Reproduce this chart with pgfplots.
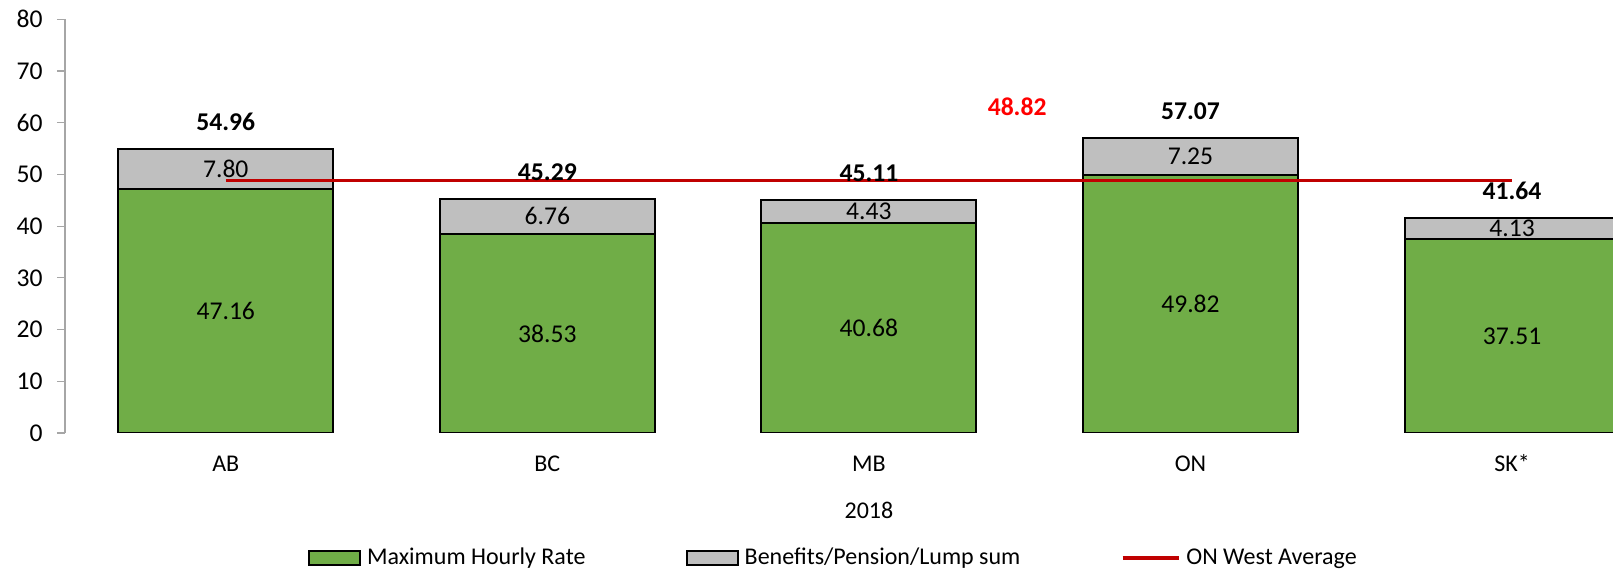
\documentclass[border=0pt]{standalone}
\usepackage{fontspec}
\setmainfont{Carlito}
\usepackage{pgfplots}
\pgfplotsset{compat=1.18}
\usepackage{pgfplotstable}
\definecolor{barGreen}{HTML}{70AD47}
\definecolor{barGray}{HTML}{BFBFBF}
\definecolor{lineRed}{HTML}{C00000}
\definecolor{axisGray}{HTML}{A6A6A6}
\pgfplotstableread{
x rate ben total avg
0 47.16 7.80 54.96 48.82
1 38.53 6.76 45.29 48.82
2 40.68 4.43 45.11 48.82
3 49.82 7.25 57.07 48.82
4 37.51 4.13 41.64 48.82
}\datatable
\newcommand{\lbl}{\fontsize{12.8}{15}\selectfont}
\newcommand{\sml}{\fontsize{12}{14}\selectfont}
\begin{document}
\begin{tikzpicture}
\begin{axis}[
  at={(0,0)}, anchor=south west,
  width=774pt, height=206.85pt, scale only axis,
  xmin=-0.5, xmax=4.314, ymin=0, ymax=80,
  ybar stacked, bar width=107.5pt,
  axis lines*=left,
  axis line style={-},
  x axis line style={draw=none},
  y axis line style={axisGray, line width=0.6pt},
  xtick={0,1,2,3,4},
  xticklabels={AB,BC,MB,ON,SK*},
  xtick style={draw=none},
  xticklabel style={anchor=base, yshift=-19.5pt, font=\sml},
  ytick={0,10,...,80},
  ytick align=outside, ytick pos=left,
  major tick length=4pt,
  ytick style={axisGray, line width=0.6pt},
  yticklabel style={anchor=east, inner xsep=0pt, xshift=-7pt, font=\lbl},
  /pgf/number format/assume math mode=true,
  clip=true,
]
\addplot[fill=barGreen, draw=black, line width=1pt,
  nodes near coords, point meta=explicit,
  nodes near coords={\pgfmathprintnumber[fixed,fixed zerofill,precision=2]{\pgfplotspointmeta}},
  every node near coord/.append style={anchor=center, font=\lbl, text=black}]
  table[x=x, y=rate, meta=rate]{\datatable};
\addplot[fill=barGray, draw=black, line width=1pt,
  nodes near coords, point meta=explicit,
  nodes near coords={\pgfmathprintnumber[fixed,fixed zerofill,precision=2]{\pgfplotspointmeta}},
  every node near coord/.append style={anchor=center, font=\lbl, text=black}]
  table[x=x, y=ben, meta=ben]{\datatable};
\end{axis}
\begin{axis}[
  at={(0,0)}, anchor=south west,
  width=774pt, height=206.85pt, scale only axis,
  xmin=-0.5, xmax=4.314, ymin=0, ymax=80,
  hide axis, clip=false,
  /pgf/number format/assume math mode=true,
  legend columns=3,
  legend cell align=left,
  legend style={draw=none, fill=none, at={(0.157,-0.302)}, anchor=west,
    inner sep=0pt, font=\sml,
    nodes={inner xsep=3pt, inner ysep=1pt},
    /tikz/every even column/.append style={column sep=47.3pt}},
]
\addlegendimage{legend image code/.code={\draw[fill=barGreen, draw=black, line width=0.8pt] (0pt,-3.5pt) rectangle (25.5pt,3.5pt);}}
\addlegendentry{Maximum Hourly Rate}
\addlegendimage{legend image code/.code={\draw[fill=barGray, draw=black, line width=0.8pt] (0pt,-3.5pt) rectangle (25.5pt,3.5pt);}}
\addlegendentry{Benefits/Pension/Lump sum}
\addplot[lineRed, line width=1.7pt, mark=none,
  legend image code/.code={\draw[lineRed, line width=1.7pt] (0pt,0pt) -- (28pt,0pt);}]
  table[x=x, y=avg]{\datatable};
\addlegendentry{ON West Average}
\addplot[only marks, mark=*, mark size=0pt, forget plot,
  nodes near coords, point meta=explicit,
  nodes near coords={\pgfmathprintnumber[fixed,fixed zerofill,precision=2]{\pgfplotspointmeta}},
  every node near coord/.append style={anchor=base, yshift=9pt, font=\lbl\bfseries, text=black}]
  table[x=x, y=total, meta=total]{\datatable};
\node[text=red, font=\lbl\bfseries] at (axis cs:2.461,63.1) {48.82};
\node[anchor=base, font=\sml] at (axis cs:2,0) [yshift=-43pt] {2018};
\end{axis}
\pgfresetboundingbox
\useasboundingbox (-32.5pt,-69pt) rectangle (774pt,216.5pt);
\end{tikzpicture}
\end{document}
